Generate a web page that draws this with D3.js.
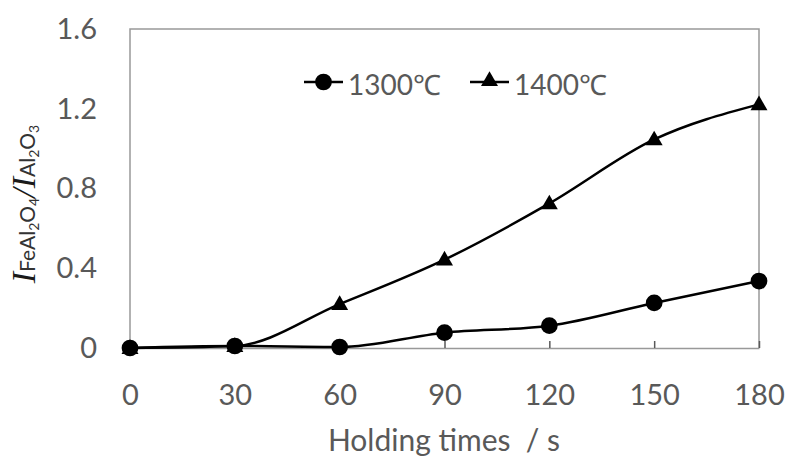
<!DOCTYPE html>
<html>
<head>
<meta charset="utf-8">
<script src="https://cdn.jsdelivr.net/npm/d3@7"></script>
<style>
  body { margin: 0; background: #fff; }
  text { font-family: Lato, "Open Sans", sans-serif; fill: #595959; }
</style>
</head>
<body>
<div id="chart"></div>
<script>
// Data
const times = [0, 30, 60, 90, 120, 150, 180];
const ratio1300 = [0, 0.01, 0.005, 0.077, 0.112, 0.226, 0.336];
const ratio1400 = [0, 0.01, 0.22, 0.443, 0.725, 1.046, 1.222];
const yTicks = [0, 0.4, 0.8, 1.2, 1.6];
const seriesNames = ["1300\u2103", "1400\u2103"];

let width = 788, height = 459;
let margins = { top: 29, right: 29, bottom: 111, left: 130 };

let svg = d3.select("#chart").append("svg")
  .attr("width", width).attr("height", height);

let xScale = d3.scaleLinear().domain([0, 180]).range([margins.left, width - margins.right]);
let yScale = d3.scaleLinear().domain([0, 1.6]).range([height - margins.bottom, margins.top]);

// Plot area border (left, top, right)
svg.append("path")
  .attr("d", "M" + xScale(0) + "," + yScale(0) + "V" + yScale(1.6) + "H" + xScale(180) + "V" + yScale(0))
  .attr("fill", "none").attr("stroke", "#999").attr("stroke-width", 1.5);

// X axis with inward ticks
let xAxisG = svg.append("g")
  .attr("transform", "translate(0," + yScale(0) + ")")
  .call(d3.axisBottom(xScale).tickValues(times).tickSize(-7).tickPadding(36).tickSizeOuter(0));
xAxisG.select(".domain").attr("stroke", "#999").attr("stroke-width", 1.5);
xAxisG.selectAll(".tick line").attr("stroke", "#595959").attr("stroke-width", 1.5);
xAxisG.selectAll(".tick text").attr("font-size", 29).attr("fill", "#595959");

// Y axis labels only
let yAxisG = svg.append("g")
  .attr("transform", "translate(" + xScale(0) + ",0)")
  .call(d3.axisLeft(yScale).tickValues(yTicks).tickSize(0).tickPadding(33)
    .tickFormat(d => d === 0 ? "0" : d3.format(".1f")(d)));
yAxisG.select(".domain").remove();
yAxisG.selectAll(".tick text").attr("font-size", 29).attr("fill", "#595959");

// Axis titles
svg.append("text")
  .attr("x", 444)
  .attr("y", 451)
  .attr("text-anchor", "middle")
  .attr("font-size", 30)
  .style("white-space", "pre")
  .text("Holding times  / s");

let yTitle = svg.append("text")
  .attr("transform", "translate(35,204) rotate(-90)")
  .attr("text-anchor", "middle")
  .attr("font-size", 21);
let serif = "'Liberation Serif', serif";
yTitle.append("tspan").attr("font-family", serif).attr("font-style", "italic")
  .attr("font-size", 34).style("fill", "#1a1a1a").text("I");
yTitle.append("tspan").style("fill", "#333").text("FeAl");
yTitle.append("tspan").attr("dy", 4).attr("font-size", 14).style("fill", "#333").text("2");
yTitle.append("tspan").attr("dy", -4).style("fill", "#333").text("O");
yTitle.append("tspan").attr("dy", 4).attr("font-size", 14).style("fill", "#333").text("4");
yTitle.append("tspan").attr("dy", -4).attr("font-family", serif)
  .attr("font-style", "italic").attr("font-size", 34).style("fill", "#1a1a1a").text("/I");
yTitle.append("tspan").style("fill", "#333").text("Al");
yTitle.append("tspan").attr("dy", 4).attr("font-size", 14).style("fill", "#333").text("2");
yTitle.append("tspan").attr("dy", -4).style("fill", "#333").text("O");
yTitle.append("tspan").attr("dy", 4).attr("font-size", 14).style("fill", "#333").text("3");

// Lines
let line = d3.line()
  .x((d, i) => xScale(times[i]))
  .y(d => yScale(d))
  .curve(d3.curveMonotoneX);

[ratio1300, ratio1400].forEach(values => {
  svg.append("path")
    .datum(values)
    .attr("d", line)
    .attr("fill", "none")
    .attr("stroke", "#000")
    .attr("stroke-width", 2.5);
});

// Markers
let circleSym = d3.symbol().type(d3.symbolCircle).size(220);
let triSym = d3.symbol().type(d3.symbolTriangle).size(125);

svg.append("g").selectAll("path")
  .data(ratio1400)
  .enter().append("path")
  .attr("d", triSym)
  .attr("transform", (d, i) => "translate(" + xScale(times[i]) + "," + (yScale(d) + 1) + ")")
  .attr("fill", "#000");

svg.append("g").selectAll("path")
  .data(ratio1300)
  .enter().append("path")
  .attr("d", circleSym)
  .attr("transform", (d, i) => "translate(" + xScale(times[i]) + "," + yScale(d) + ")")
  .attr("fill", "#000");

// Legend
let legendX = [304, 470];
let legendY = 82;
let legendSyms = [circleSym, triSym];
seriesNames.forEach((name, i) => {
  let g = svg.append("g").attr("transform", "translate(" + legendX[i] + "," + legendY + ")");
  g.append("line").attr("x1", 0).attr("x2", 39).attr("y1", 0).attr("y2", 0)
    .attr("stroke", "#000").attr("stroke-width", 2.5);
  g.append("path").attr("d", legendSyms[i]).attr("transform", "translate(19.5," + (i === 1 ? -1 : 0) + ")")
    .attr("fill", "#000");
  g.append("text").attr("x", 44).attr("y", 13).attr("font-size", 28).text(name);
});
</script>
</body>
</html>
